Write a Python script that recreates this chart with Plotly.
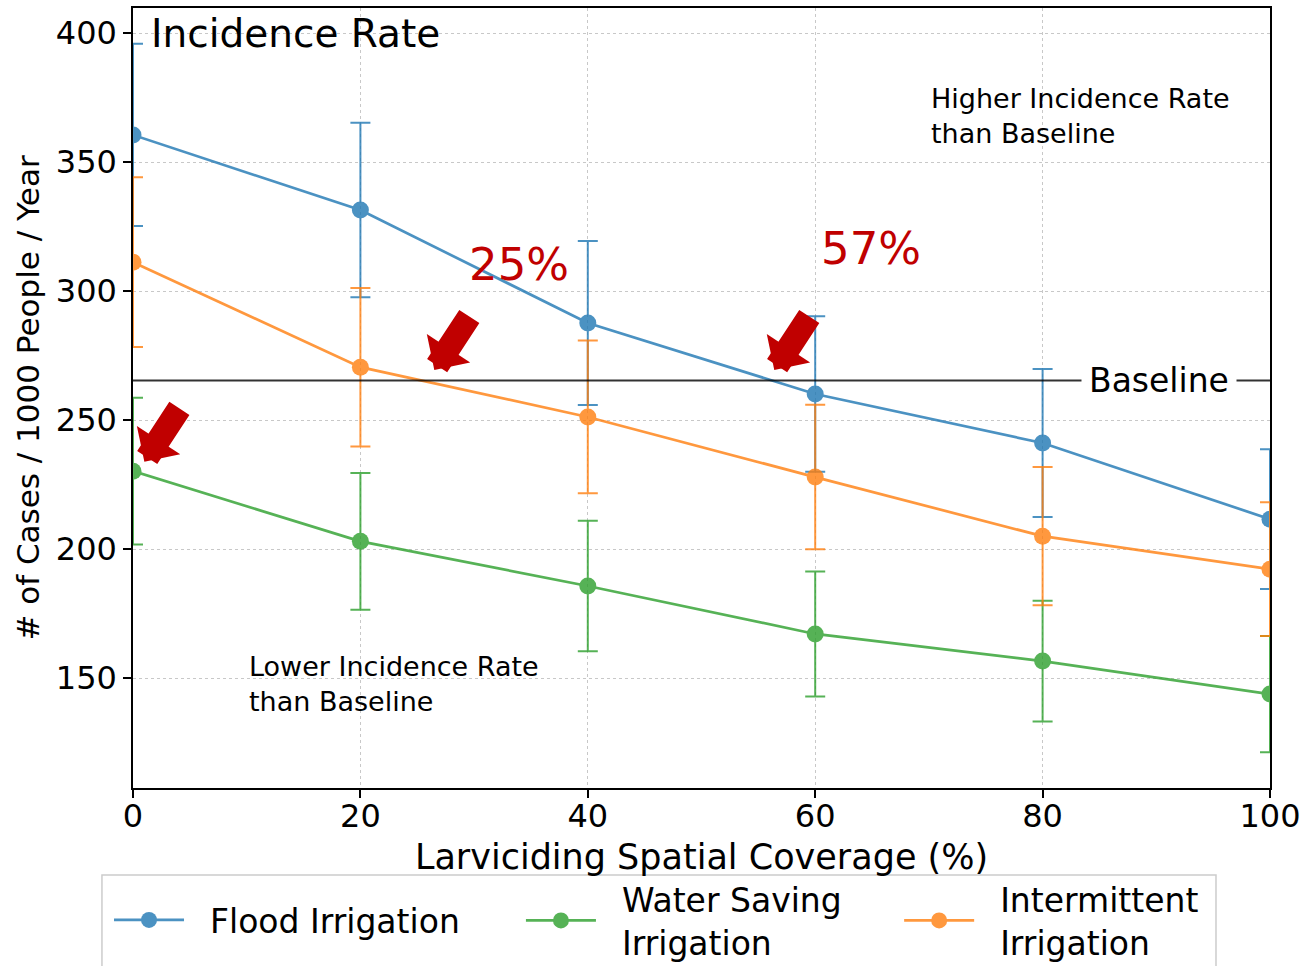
import plotly.graph_objects as go

coverage = [0, 20, 40, 60, 80, 100]

flood_mean = [360.5, 331.4, 287.6, 260.1, 241.1, 211.6]
flood_err = [35.3, 33.8, 31.8, 30.1, 28.7, 27.1]

water_mean = [230.2, 203.0, 185.7, 167.1, 156.6, 143.8]
water_err = [28.4, 26.5, 25.3, 24.2, 23.4, 22.5]

inter_mean = [311.2, 270.5, 251.2, 227.9, 205.0, 192.2]
inter_err = [32.9, 30.7, 29.6, 28.0, 26.8, 25.9]

baseline = 265.3

NB = "\u00a0"
series = [
    (NB * 2 + "Flood Irrigation", flood_mean, flood_err, "#1f77b4", "legend2"),
    (NB * 2 + "Water Saving" + NB * 5 + "<br>" + NB * 2 + "Irrigation",
     water_mean, water_err, "#2ca02c", "legend"),
    (NB * 2 + "Intermittent" + NB * 5 + "<br>" + NB * 2 + "Irrigation",
     inter_mean, inter_err, "#ff7f0e", "legend"),
]

FONT = "DejaVu Sans"
fig = go.Figure()

for label, m, e, c, leg in series:
    fig.add_trace(go.Scatter(
        x=coverage, y=m, name=label, mode="lines+markers",
        line=dict(color=c, width=2.7),
        marker=dict(color=c, size=17, line=dict(width=0)),
        opacity=0.8, legend=leg,
        error_y=dict(type="data", array=e, visible=True, color=c,
                     thickness=2, width=10),
    ))

# Baseline line
fig.add_shape(type="line", xref="paper", x0=0, x1=1, yref="y", y0=baseline, y1=baseline,
              line=dict(color="black", width=2), opacity=0.8, layer="above")

# legend frame
fig.add_shape(type="rect", xref="paper", yref="paper",
              x0=-0.0273, x1=0.9525, y0=-0.1115, y1=-0.26,
              line=dict(color="#cccccc", width=1.5), fillcolor="white", layer="above")

fig.add_annotation(x=90.2, y=baseline, xref="x", yref="y", text="Baseline",
                   showarrow=False, bgcolor="white", borderpad=7,
                   font=dict(family=FONT, size=33, color="black"))

# texts
fig.add_annotation(x=0.0145, y=400, xref="paper", yref="y", text="Incidence Rate",
                   showarrow=False, xanchor="left", yanchor="middle",
                   font=dict(family=FONT, size=39, color="black"))
fig.add_annotation(x=70, y=367.8, xref="x", yref="y",
                   text="Higher Incidence Rate<br>than Baseline",
                   showarrow=False, xanchor="left", yanchor="middle", align="left",
                   font=dict(family=FONT, size=27, color="black"))
fig.add_annotation(x=10, y=147.7, xref="x", yref="y",
                   text="Lower Incidence Rate<br>than Baseline",
                   showarrow=False, xanchor="left", yanchor="middle", align="left",
                   font=dict(family=FONT, size=27, color="black"))
fig.add_annotation(x=29.35, y=310.1, xref="x", yref="y", text="25%",
                   showarrow=False, xanchor="left", yanchor="middle",
                   font=dict(family=FONT, size=45, color="#c00000"))
fig.add_annotation(x=60.35, y=316.3, xref="x", yref="y", text="57%",
                   showarrow=False, xanchor="left", yanchor="middle",
                   font=dict(family=FONT, size=45, color="#c00000"))

# red arrows
for tx, ty in [(1.0, 233.8), (26.5, 269.4), (56.4, 269.4)]:
    fig.add_annotation(x=tx, y=ty, xref="x", yref="y", text="",
                       showarrow=True, ax=36, ay=-55, arrowhead=1,
                       arrowsize=0.36, arrowwidth=24, arrowcolor="#c00000",
                       standoff=0)

leg_common = dict(orientation="h", xanchor="left", yanchor="top",
                  bgcolor="rgba(0,0,0,0)", borderwidth=0,
                  font=dict(family=FONT, size=33), itemwidth=70,
                  traceorder="normal")

fig.update_layout(
    width=1305, height=966,
    margin=dict(l=133, r=35, t=8, b=178, autoexpand=False),
    plot_bgcolor="white", paper_bgcolor="white",
    font=dict(family=FONT, size=30, color="black"),
    showlegend=True,
    legend=dict(x=0.3412, y=-0.1064, **leg_common),
    legend2=dict(x=-0.0211, y=-0.1333, **leg_common),
)

fig.update_xaxes(
    range=[0, 100], tickvals=[0, 20, 40, 60, 80, 100],
    title=dict(text="Larviciding Spatial Coverage (%)", font=dict(size=35), standoff=10),
    showline=True, linecolor="black", linewidth=1.5, mirror=True,
    ticks="outside", ticklen=8, tickwidth=1.5, tickcolor="black",
    ticklabelstandoff=-9,
    showgrid=True, gridcolor="#c8c8c8", griddash="dot", gridwidth=1,
    zeroline=False, tickfont=dict(size=32),
)
fig.update_yaxes(
    range=[107.4, 409.7], tickvals=[150, 200, 250, 300, 350, 400],
    title=dict(text="# of Cases / 1000 People / Year", font=dict(size=31), standoff=7),
    showline=True, linecolor="black", linewidth=1.5, mirror=True,
    ticks="outside", ticklen=8, tickwidth=1.5, tickcolor="black",
    showgrid=True, gridcolor="#c8c8c8", griddash="dot", gridwidth=1,
    zeroline=False, tickfont=dict(size=32),
)

fig.write_html("out.html")
